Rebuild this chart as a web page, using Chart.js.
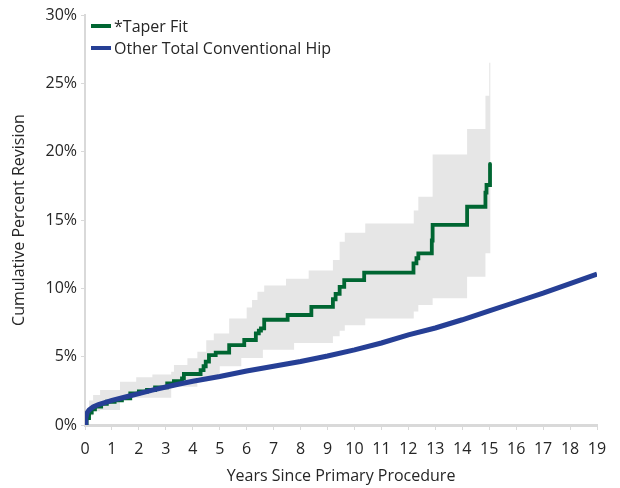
<!DOCTYPE html>
<html>
<head>
<meta charset="utf-8">
<script src="https://cdn.jsdelivr.net/npm/chart.js@4/dist/chart.umd.min.js"></script>
<style>
  html, body { margin: 0; padding: 0; background: #ffffff; }
  #wrap { width: 620px; height: 488px; position: relative; }
</style>
</head>
<body>
<div id="wrap"><canvas id="c" width="620" height="488"></canvas></div>
<script>
// ---- Data ----
const seriesNames = ["*Taper Fit", "Other Total Conventional Hip"];

const taperYears = [0, 0.06, 0.15, 0.25, 0.37, 0.6, 0.81, 1.1, 1.37, 1.68, 2.0, 2.3, 2.6, 3.05, 3.3, 3.6, 3.67, 4.29, 4.4, 4.48, 4.6, 4.85, 5.35, 5.91, 6.34, 6.45, 6.53, 6.65, 7.52, 8.4, 9.2, 9.3, 9.45, 9.62, 10.36, 12.19, 12.3, 12.37, 12.87, 12.9, 14.18, 14.86, 14.9, 15.03];
const taperPct   = [0, 0.5, 0.9, 1.15, 1.34, 1.55, 1.7, 1.8, 1.95, 2.32, 2.45, 2.56, 2.75, 3.05, 3.2, 3.41, 3.73, 4.02, 4.3, 4.63, 5.12, 5.29, 5.85, 6.22, 6.7, 6.9, 7.07, 7.7, 8.05, 8.65, 9.2, 9.6, 10.1, 10.6, 11.15, 11.83, 12.2, 12.56, 13.5, 14.65, 15.97, 17.0, 17.56, 19.1];

const otherYears = [0, 0.03, 0.08, 0.15, 0.3, 0.5, 1, 1.5, 2, 2.5, 3, 3.5, 4, 5, 6, 7, 8, 9, 10, 11, 12, 13, 14, 15, 16, 17, 18, 19];
const otherPct   = [0, 0.5, 0.9, 1.1, 1.32, 1.5, 1.8, 2.05, 2.3, 2.55, 2.78, 3.0, 3.2, 3.55, 3.95, 4.3, 4.65, 5.05, 5.5, 6.0, 6.6, 7.1, 7.7, 8.35, 9.0, 9.65, 10.35, 11.05];

// 95% confidence band of *Taper Fit
const bandYears = [0, 0.05, 0.15, 0.3, 0.56, 1.3, 1.9, 2.5, 3.2, 3.3, 3.8, 4.17, 4.5, 4.78, 5.0, 5.35, 5.8, 6.0, 6.2, 6.4, 6.6, 6.65, 7.46, 7.76, 8.3, 9.2, 9.45, 9.64, 10.4, 12.2, 12.37, 12.9, 14.18, 14.86, 15.0, 15.05];
const bandUpper = [0, 1.0, 1.8, 2.2, 2.56, 3.17, 3.5, 3.7, 3.9, 4.39, 4.88, 5.36, 6.2, 6.7, 6.7, 7.8, 7.8, 8.6, 9.14, 9.75, 9.75, 10.2, 10.7, 10.7, 11.3, 12.07, 13.4, 14.07, 14.75, 15.7, 16.7, 19.8, 21.65, 24.1, 26.5, 26.5];
const bandLower = [0, 0.3, 0.7, 1.0, 1.1, 2.0, 2.0, 2.0, 2.8, 2.8, 2.8, 3.5, 3.5, 3.5, 4.3, 4.3, 4.9, 4.9, 4.9, 4.9, 5.5, 5.5, 5.5, 6.0, 6.0, 6.5, 6.9, 7.3, 7.8, 8.3, 8.78, 9.27, 10.85, 12.56, 12.56, 12.56];

const xMin = 0, xMax = 19, xStep = 1;
const yMin = 0, yMax = 30, yStep = 5;
const xTitle = "Years Since Primary Procedure";
const yTitle = "Cumulative Percent Revision";

// ---- Chart ----
const pts = (xs, ys) => xs.map((x, i) => ({ x: x, y: ys[i] }));
const FONT = "'Open Sans', 'Noto Sans', sans-serif";
const FS = 16;
const TXT = "#262626";
const AXIS = "#d9d9d9";

const legendPlugin = {
  id: 'insideLegend',
  afterDatasetsDraw(chart) {
    const ctx = chart.ctx;
    const items = chart.data.datasets.filter(d => d.legendRank !== undefined)
      .sort((a, b) => a.legendRank - b.legendRank);
    ctx.save();
    ctx.font = FS + "px " + FONT;
    ctx.textBaseline = 'middle';
    ctx.textAlign = 'left';
    items.forEach((d, i) => {
      const y = 26 + i * 22;
      ctx.strokeStyle = d.borderColor;
      ctx.lineWidth = 4;
      ctx.beginPath();
      ctx.moveTo(91, y);
      ctx.lineTo(111, y);
      ctx.stroke();
      ctx.fillStyle = TXT;
      ctx.fillText(d.label, 114, y + 1);
    });
    ctx.restore();
  }
};

new Chart(document.getElementById('c'), {
  type: 'line',
  data: {
    datasets: [
      {
        label: seriesNames[1], legendRank: 1,
        data: pts(otherYears, otherPct),
        borderColor: '#263f95', borderWidth: 5,
        pointRadius: 0, tension: 0, fill: false
      },
      {
        label: seriesNames[0], legendRank: 0,
        data: pts(taperYears, taperPct),
        borderColor: '#006632', borderWidth: 3.8,
        pointRadius: 0, stepped: true, fill: false,
        borderCapStyle: 'round', borderJoinStyle: 'miter'
      },
      {
        label: 'upper',
        data: pts(bandYears, bandUpper),
        borderWidth: 0, borderColor: 'rgba(0,0,0,0)',
        backgroundColor: '#e6e6e6',
        pointRadius: 0, stepped: true, fill: '+1'
      },
      {
        label: 'lower',
        data: pts(bandYears, bandLower),
        borderWidth: 0, borderColor: 'rgba(0,0,0,0)',
        pointRadius: 0, stepped: true, fill: false
      }
    ]
  },
  options: {
    responsive: false,
    animation: false,
    devicePixelRatio: 1,
    layout: { padding: { left: 8, right: 23, top: 15, bottom: 2 } },
    plugins: {
      legend: { display: false },
      tooltip: { enabled: false }
    },
    scales: {
      x: {
        type: 'linear', min: xMin, max: xMax,
        afterFit: s => { s.height = 61; },
        ticks: { stepSize: xStep, color: TXT, font: { family: FONT, size: FS }, padding: 10, maxRotation: 0 },
        grid: { display: true, drawOnChartArea: false, drawTicks: true, tickLength: 5, color: AXIS, lineWidth: 1 },
        border: { display: true, color: AXIS, width: 3 },
        title: { display: true, text: xTitle, color: TXT, font: { family: FONT, size: FS }, padding: 0 }
      },
      y: {
        type: 'linear', min: yMin, max: yMax,
        afterFit: s => { s.width = 77; },
        ticks: { stepSize: yStep, color: TXT, font: { family: FONT, size: FS }, padding: 4, callback: v => v + '%' },
        grid: { display: true, drawOnChartArea: false, drawTicks: true, tickLength: 4, color: AXIS, lineWidth: 1 },
        border: { display: true, color: AXIS, width: 2 },
        title: { display: true, text: yTitle, color: TXT, font: { family: FONT, size: FS }, padding: { top: 2, bottom: 0 } }
      }
    }
  },
  plugins: [legendPlugin]
});
</script>
</body>
</html>
